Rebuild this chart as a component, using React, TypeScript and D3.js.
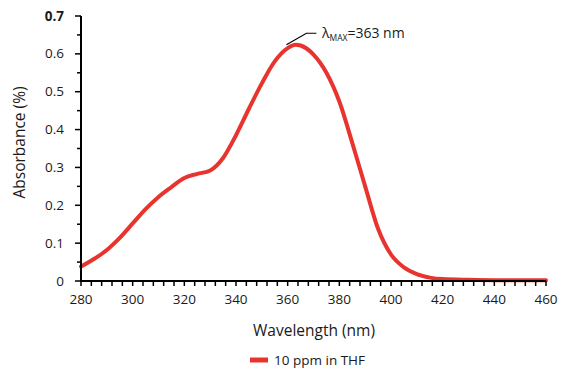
import React from "react";
import * as d3 from "d3";

const wavelengths = [280, 285, 290, 295, 300, 305, 310, 315, 320, 325, 330, 335, 340, 345, 350, 355, 360, 363, 365, 370, 375, 380, 385, 390, 395, 400, 405, 410, 415, 420, 430, 440, 450, 460];
const absorbance = [0.038, 0.058, 0.082, 0.114, 0.152, 0.19, 0.222, 0.248, 0.272, 0.283, 0.292, 0.325, 0.385, 0.455, 0.522, 0.58, 0.615, 0.624, 0.622, 0.598, 0.55, 0.474, 0.365, 0.25, 0.138, 0.07, 0.036, 0.018, 0.009, 0.005, 0.003, 0.002, 0.002, 0.002];
const xTicks = [280, 300, 320, 340, 360, 380, 400, 420, 440, 460];
const yTicks = [0, 0.1, 0.2, 0.3, 0.4, 0.5, 0.6, 0.7];
const seriesName = "10 ppm in THF";
const peak = 363;

const W = 563, H = 381;
const FONT = "'Open Sans', 'Liberation Sans', sans-serif";
const RED = "#e8342f";

export default function App() {
  const x = d3.scaleLinear().domain([280, 460]).range([81, 546]);
  const y = d3.scaleLinear().domain([0, 0.7]).range([281, 16]);
  const data = wavelengths.map((w, i) => [w, absorbance[i]] as [number, number]);
  const line = d3.line<[number, number]>().x(d => x(d[0])).y(d => y(d[1])).curve(d3.curveMonotoneX);
  const minorX = d3.range(280, 460.1, 4);
  const minorY = d3.range(0, 0.7001, 0.05);
  const peakVal = absorbance[wavelengths.indexOf(peak)];
  const px = x(peak), py = y(peakVal);
  return (
    <svg width={W} height={H} style={{ position: "absolute", left: 0, top: 0, background: "#fff" }} fontFamily={FONT}>
      <path d={line(data) || ""} fill="none" stroke={RED} strokeWidth={4} strokeLinejoin="round" strokeLinecap="round" />
      <line x1={x(280)} x2={x(460)} y1={y(0)} y2={y(0)} stroke="#000" strokeWidth={2} />
      <line x1={x(280)} x2={x(280)} y1={y(0) + 1} y2={y(0.7)} stroke="#000" strokeWidth={2} />
      {minorX.map(v => (
        <line key={"mx" + v} x1={x(v)} x2={x(v)} y1={y(0)} y2={y(0) + 5} stroke="#000" strokeWidth={1.5} />
      ))}
      {minorY.map(v => (
        <line key={"my" + v} x1={x(280) - (Math.abs(v * 10 - Math.round(v * 10)) < 1e-6 ? 6 : 4)} x2={x(280)} y1={y(v)} y2={y(v)} stroke="#000" strokeWidth={1.5} />
      ))}
      {xTicks.map(v => (
        <text key={"xt" + v} x={x(v)} y={304} textAnchor="middle" fontSize={13.5} fill="#1a1a1a">{v}</text>
      ))}
      {yTicks.map(v => (
        <text key={"yt" + v} x={64} y={y(v) + 4.5} textAnchor="end" fontSize={13.5} fill="#1a1a1a" fontWeight={v === 0.7 ? 700 : 400}>{v === 0 ? "0" : v.toFixed(1)}</text>
      ))}
      <text x={314} y={336} textAnchor="middle" fontSize={15.5} fill="#1a1a1a">Wavelength (nm)</text>
      <text transform={`translate(25,${y(0.35) - 6}) rotate(-90)`} textAnchor="middle" fontSize={15.5} fill="#1a1a1a">Absorbance (%)</text>
      <polyline points={`${px - 9},${py} ${px + 11},${py - 11.5} ${px + 21},${py - 11.5}`} fill="none" stroke="#000" strokeWidth={1.2} />
      <text x={322} y={38} fontSize={14} fill="#1a1a1a">
        λ<tspan fontSize={8.5} dy={3}>MAX</tspan><tspan dy={-3}>=363 nm</tspan>
      </text>
      <line x1={250} x2={268} y1={360} y2={360} stroke={RED} strokeWidth={5} />
      <text x={274} y={365} fontSize={13.5} fill="#1a1a1a">{seriesName}</text>
    </svg>
  );
}
